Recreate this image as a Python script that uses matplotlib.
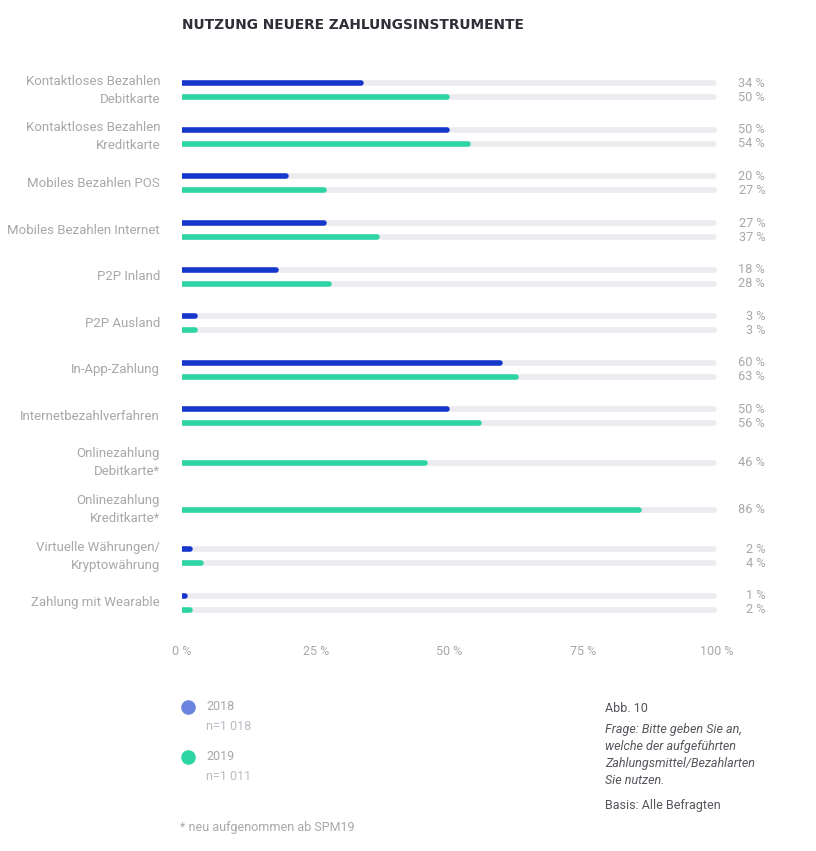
import numpy as np
import matplotlib
matplotlib.use("Agg")
from matplotlib import pyplot as plt

# data
categories = [
    "Kontaktloses Bezahlen\nDebitkarte",
    "Kontaktloses Bezahlen\nKreditkarte",
    "Mobiles Bezahlen POS",
    "Mobiles Bezahlen Internet",
    "P2P Inland",
    "P2P Ausland",
    "In-App-Zahlung",
    "Internetbezahlverfahren",
    "Onlinezahlung\nDebitkarte*",
    "Onlinezahlung\nKreditkarte*",
    "Virtuelle Währungen/\nKryptowährung",
    "Zahlung mit Wearable",
]
values_2018 = [34, 50, 20, 27, 18, 3, 60, 50, None, None, 2, 1]
values_2019 = [50, 54, 27, 37, 28, 3, 63, 56, 46, 86, 4, 2]
tick_values = [0, 25, 50, 75, 100]
tick_labels = ["0 %", "25 %", "50 %", "75 %", "100 %"]

BLUE = "#1637cc"
GREEN = "#2dd5a4"
TRACK = "#ebebf0"
GREY_TXT = "#a8a7aa"
DARK_TXT = "#55555c"

plt.rcParams["font.family"] = ["Roboto", "DejaVu Sans"]

W, H = 816, 851
fig = plt.figure(figsize=(W / 100, H / 100), dpi=100)
ax = fig.add_axes([182 / W, 1 - 626 / H, (717 - 182) / W, (626 - 67) / H])

n = len(categories)
y = np.arange(n)
off = 0.15
lw = 4.0  # points
cap = 0.5  # data units taken by the round cap

def bar(yy, v, color, z):
    ax.plot([0, max(v - cap, 0.01)], [yy, yy], color=color, lw=lw,
            solid_capstyle="round", zorder=z)

for i in range(n):
    a, b = values_2018[i], values_2019[i]
    if a is None:
        bar(y[i], 100, TRACK, 1)
        bar(y[i], b, GREEN, 2)
        ax.text(109, y[i], f"{b} %", ha="right", va="center",
                fontsize=9.2, color=GREY_TXT, clip_on=False)
    else:
        bar(y[i] - off, 100, TRACK, 1)
        bar(y[i] + off, 100, TRACK, 1)
        bar(y[i] - off, a, BLUE, 2)
        bar(y[i] + off, b, GREEN, 2)
        ax.text(109, y[i] - off, f"{a} %", ha="right", va="center",
                fontsize=9.2, color=GREY_TXT, clip_on=False)
        ax.text(109, y[i] + off, f"{b} %", ha="right", va="center",
                fontsize=9.2, color=GREY_TXT, clip_on=False)
    ax.text(-4.1, y[i], categories[i], ha="right", va="center",
            fontsize=9.5, color=GREY_TXT, linespacing=1.5, clip_on=False)

ax.set_xlim(0, 100)
ax.set_ylim(n - 0.5, -0.5)
ax.set_yticks([])
ax.set_xticks(tick_values)
ax.set_xticklabels(tick_labels, fontsize=9, color=GREY_TXT)
ax.tick_params(axis="x", length=0, pad=14)
for s in ax.spines.values():
    s.set_visible(False)

# title
fig.text(182 / W, 1 - 25 / H, "NUTZUNG NEUERE ZAHLUNGSINSTRUMENTE",
         family="DejaVu Sans", fontweight="bold", fontsize=9.9,
         color="#2f2f38", va="center", ha="left")

# legend and notes in pixel coordinates
ov = fig.add_axes([0, 0, 1, 1], zorder=-1)
ov.set_xlim(0, W)
ov.set_ylim(H, 0)
ov.axis("off")
ov.scatter([188], [707], s=110, color="#6b84e0", lw=0)
ov.scatter([188], [757], s=110, color=GREEN, lw=0)
ov.text(206, 707, "2018", fontsize=9, color=GREY_TXT, va="center")
ov.text(206, 727, "n=1 018", fontsize=9, color="#bbbbc4", va="center")
ov.text(206, 757, "2019", fontsize=9, color=GREY_TXT, va="center")
ov.text(206, 776, "n=1 011", fontsize=9, color="#bbbbc4", va="center")
ov.text(180, 828, "* neu aufgenommen ab SPM19", fontsize=9,
        color=GREY_TXT, va="center")

ov.text(605, 708, "Abb. 10", fontsize=9, color=DARK_TXT, va="center")
ov.text(605, 723, "Frage: Bitte geben Sie an,\nwelche der aufgeführten\n"
        "Zahlungsmittel/Bezahlarten\nSie nutzen.", fontsize=9,
        style="italic", color=DARK_TXT, va="top", linespacing=1.4)
ov.text(605, 805, "Basis: Alle Befragten", fontsize=9, color=DARK_TXT,
        va="center")

fig.savefig("out.png", dpi=100)
